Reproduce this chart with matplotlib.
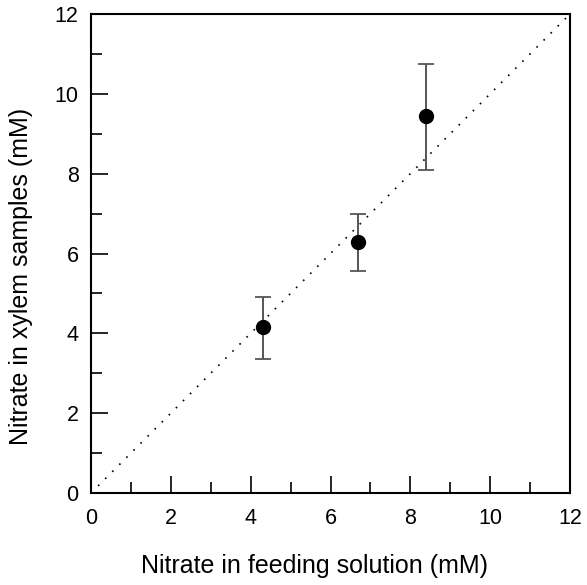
import numpy as np
import matplotlib
matplotlib.use("Agg")
import matplotlib.pyplot as plt
from matplotlib.ticker import MultipleLocator

plt.rcParams['font.family'] = ['Liberation Sans', 'DejaVu Sans']

# datos
feeding = [4.3, 6.7, 8.4]
xylem = [4.15, 6.3, 9.45]
err_up = [0.75, 0.68, 1.3]
err_down = [0.8, 0.75, 1.37]
line_ref = [0, 12]

fig = plt.figure(figsize=(5.87, 5.85), dpi=100)
ax = fig.add_axes([91 / 587, 92 / 585, 479 / 587, 479 / 585])

ax.plot(line_ref, line_ref, linestyle=(0, (1, 5)), color="black", lw=1.2)
_, caps, _ = ax.errorbar(feeding, xylem, yerr=[err_down, err_up], fmt="none", ecolor="#555555",
                         elinewidth=1.4, capsize=6, capthick=1.3)
for c in caps:
    c.set_color("black")
ax.plot(feeding, xylem, "o", color="black", markersize=10)

ax.set_xlim(0, 12)
ax.set_ylim(0, 12)
ax.xaxis.set_major_locator(MultipleLocator(2))
ax.yaxis.set_major_locator(MultipleLocator(2))
ax.xaxis.set_minor_locator(MultipleLocator(1))
ax.yaxis.set_minor_locator(MultipleLocator(1))
ax.tick_params(which="both", direction="in", top=False, right=False, labelsize=15.5, width=1.2)
ax.tick_params(which="major", length=12)
ax.tick_params(axis="x", which="major", pad=11)
ax.tick_params(axis="y", which="major", pad=9)
ax.tick_params(which="minor", length=8)
for s in ax.spines.values():
    s.set_linewidth(1.5)

ax.set_xlabel("Nitrate in feeding solution (mM)", fontsize=18, va="center")
ax.set_ylabel("Nitrate in xylem samples (mM)", fontsize=18, va="center")
ax.xaxis.set_label_coords(0.466, -0.152)
ax.yaxis.set_label_coords(-0.146, 0.453)

fig.savefig("out.png", dpi=100)
